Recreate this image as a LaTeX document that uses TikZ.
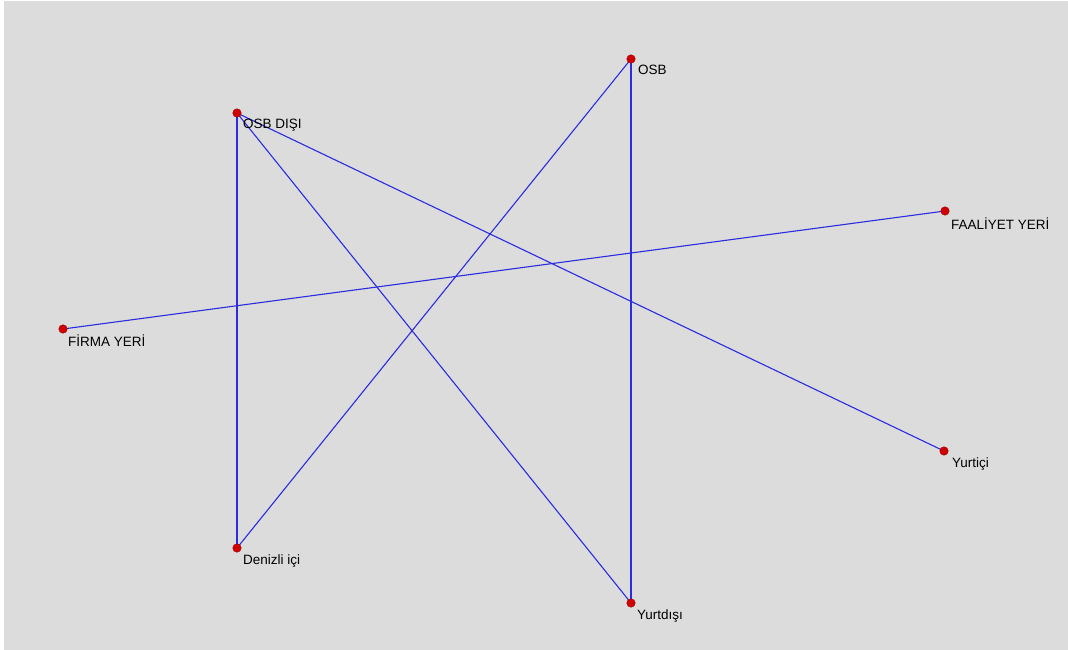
\documentclass[tikz,border=0pt]{standalone}
\usepackage{fontspec}
\setmainfont{Liberation Sans}
\definecolor{bg}{HTML}{DCDCDC}
\definecolor{edgeblue}{HTML}{2B2BE0}
\definecolor{dotred}{HTML}{D00000}
\begin{document}
\begin{tikzpicture}[x=1pt,y=-1pt,
  dot/.style={circle,fill=dotred,draw=red!60!black,line width=0.4pt,inner sep=0pt,minimum size=8.5pt},
  lbl/.style={anchor=base west,inner sep=0pt,font=\fontsize{13.5}{15}\selectfont},
  edge/.style={draw=edgeblue,line width=1.1pt}]
\fill[white] (0,0) rectangle (1068,650);
\fill[bg] (4,1) rectangle (1068,650);
\useasboundingbox (0,0) rectangle (1068,650);
\coordinate (pOSB) at (631,59);
\coordinate (pOSBD) at (237,113);
\coordinate (pFAAL) at (945,211);
\coordinate (pFIRMA) at (63,329);
\coordinate (pYurtici) at (944,451);
\coordinate (pDenizli) at (237,548);
\coordinate (pYurtdisi) at (631,603);
\draw[edge] (pOSB) -- (pYurtdisi);
\draw[edge] (pOSB) -- (pDenizli);
\draw[edge] (pOSBD) -- (pDenizli);
\draw[edge] (pOSBD) -- (pYurtdisi);
\draw[edge] (pOSBD) -- (pYurtici);
\draw[edge] (pFIRMA) -- (pFAAL);
\node[dot] (OSB) at (pOSB) {};
\node[dot] (OSBD) at (pOSBD) {};
\node[dot] (FAAL) at (pFAAL) {};
\node[dot] (FIRMA) at (pFIRMA) {};
\node[dot] (Yurtici) at (pYurtici) {};
\node[dot] (Denizli) at (pDenizli) {};
\node[dot] (Yurtdisi) at (pYurtdisi) {};
\node[lbl] (tOSB) at ([xshift=7,yshift=-16]pOSB) {OSB};
\node[lbl] (tOSBD) at ([xshift=6,yshift=-16]pOSBD) {OSB DIŞI};
\node[lbl] (tFAAL) at ([xshift=6,yshift=-18]pFAAL) {FAALİYET YERİ};
\node[lbl] (tFIRMA) at ([xshift=5,yshift=-17]pFIRMA) {FİRMA YERİ};
\node[lbl] (tYurtici) at ([xshift=8,yshift=-16]pYurtici) {Yurtiçi};
\node[lbl] (tDenizli) at ([xshift=6,yshift=-16]pDenizli) {Denizli içi};
\node[lbl] (tYurtdisi) at ([xshift=6,yshift=-16]pYurtdisi) {Yurtdışı};
\end{tikzpicture}
\end{document}
